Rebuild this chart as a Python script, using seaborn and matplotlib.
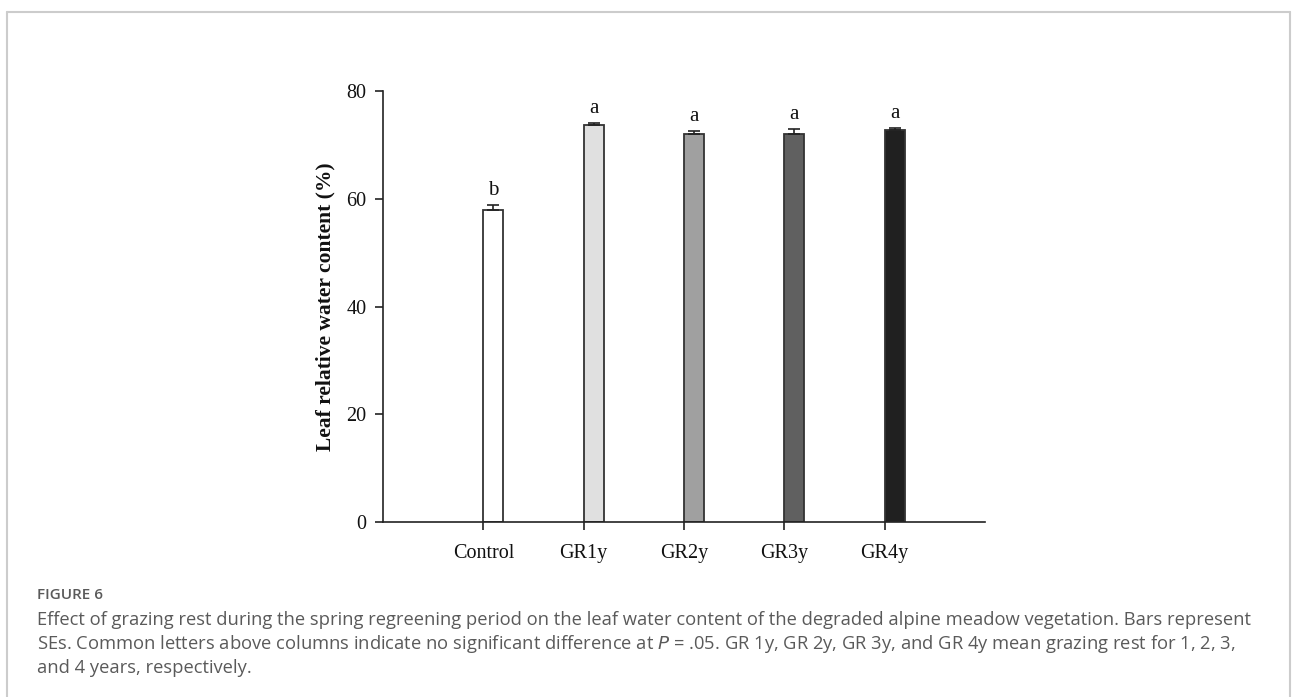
import matplotlib
matplotlib.use("Agg")
import matplotlib.pyplot as plt
import seaborn as sns
import pandas as pd
import numpy as np
from matplotlib.lines import Line2D

categories = ["Control", "GR1y", "GR2y", "GR3y", "GR4y"]
values = [58.0, 73.7, 72.1, 72.1, 72.7]
se = [0.8, 0.45, 0.45, 0.8, 0.5]
letters = ["b", "a", "a", "a", "a"]
colors = ["#ffffff", "#e0e0e0", "#a0a0a0", "#606060", "#202020"]
yticks = [0, 20, 40, 60, 80]

sns.set_theme(style="ticks")
plt.rcParams["font.family"] = ["Liberation Serif", "DejaVu Serif"]

fig = plt.figure(figsize=(12.93, 6.97), dpi=100)
ax = fig.add_axes([383/1293, 1-522/697, (985-383)/1293, (522-91)/697])

df = pd.DataFrame({"group": categories, "value": values})
sns.barplot(data=df, x="group", y="value", hue="group", palette=colors,
            width=0.2, edgecolor="#333333", linewidth=1.3, legend=False,
            errorbar=None, ax=ax)

pos = np.arange(len(categories))
ax.errorbar(pos, values, yerr=[np.zeros(len(se)), se], fmt="none",
            ecolor="#222222", elinewidth=1.2, capsize=4.5, capthick=1.2, zorder=3)

for i, (v, s, l) in enumerate(zip(values, se, letters)):
    ax.text(i, v + s + 0.9, l, ha="center", va="bottom", fontsize=15,
            color="#111111")

ax.set_xlim(-1.1, 4.9)
ax.set_ylim(0, 80)
ax.set_yticks(yticks)
ax.set_yticklabels([str(t) for t in yticks], fontsize=14.5)
ax.set_xticks(pos - 0.1)
ax.set_xticklabels(categories, fontsize=14.5)
ax.tick_params(axis="both", direction="out", length=6, width=1.2,
               color="#222222", labelcolor="#111111")
ax.tick_params(axis="x", pad=10)
ax.tick_params(axis="y", pad=6)
ax.set_xlabel("")
ax.set_ylabel("Leaf relative water content (%)", fontsize=15.5,
              fontweight="bold", color="#111111", labelpad=8)
for side in ["top", "right"]:
    ax.spines[side].set_visible(False)
for side in ["left", "bottom"]:
    ax.spines[side].set_color("#222222")
    ax.spines[side].set_linewidth(1.2)

# frame border
W, H = 1293, 697
fc = "#cccccc"
fig.add_artist(Line2D([7/W, 1290/W], [1-12/H, 1-12/H], color=fc, lw=1.5, transform=fig.transFigure))
fig.add_artist(Line2D([7/W, 7/W], [1-12/H, 0], color=fc, lw=1.5, transform=fig.transFigure))
fig.add_artist(Line2D([1290/W, 1290/W], [1-12/H, 0], color=fc, lw=1.5, transform=fig.transFigure))

cap_font = ["Open Sans", "DejaVu Sans"]
fig.text(37/W, 1-595/H, "FIGURE 6", fontsize=11, color="#5a5a5a",
         family=cap_font, fontweight="semibold", va="center", ha="left")
cap_lines = [
    "Effect of grazing rest during the spring regreening period on the leaf water content of the degraded alpine meadow vegetation. Bars represent",
    "SEs. Common letters above columns indicate no significant difference at $\\it{P}$ = .05. GR 1y, GR 2y, GR 3y, and GR 4y mean grazing rest for 1, 2, 3,",
    "and 4 years, respectively.",
]
for k, line in enumerate(cap_lines):
    fig.text(37/W, 1-(620 + 24*k)/H, line, fontsize=13.2, color="#5a5a5a",
             family=cap_font, va="center", ha="left")

fig.savefig("out.png", dpi=100, facecolor="white")
